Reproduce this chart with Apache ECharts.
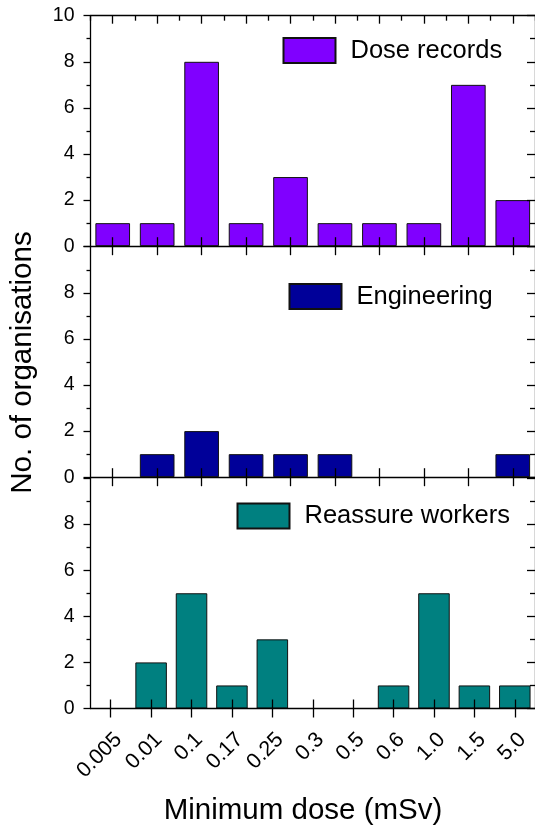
<!DOCTYPE html>
<html>
<head>
<meta charset="utf-8">
<script src="https://cdn.jsdelivr.net/npm/echarts@6/dist/echarts.min.js"></script>
<style>
  html, body { margin: 0; padding: 0; background: #fff; }
  #chart { width: 535px; height: 829px; }
</style>
</head>
<body>
<div id="chart"></div>
<script>
// upper two panels share a 10-slot x axis without labels
const upperSlots = ['1', '2', '3', '4', '5', '6', '7', '8', '9', '10'];
// lower panel categories (tick labels)
const doseLabels = ['0.005', '0.01', '0.1', '0.17', '0.25', '0.3', '0.5', '0.6', '1.0', '1.5', '5.0'];

const doseRecords = [1, 1, 8, 1, 3, 1, 1, 1, 7, 2];
const engineering = [0, 1, 2, 1, 1, 1, 0, 0, 0, 1];
const reassureWorkers = [0, 2, 5, 1, 3, 0, 0, 1, 5, 1, 1];

const seriesNames = ['Dose records', 'Engineering', 'Reassure workers'];
const seriesColors = ['#8000ff', '#000099', '#008080'];

const FONT = "'Liberation Sans', Arial, sans-serif";
const chart = echarts.init(document.getElementById('chart'));

const panelTops = [15.7, 246.7, 478];
const panelHeight = 230.5;
const lineStyle = { color: '#000', width: 1.3 };

const grids = panelTops.map(t => ({ left: 90.5, width: 446.5, top: t, height: panelHeight }));

const xAxes = [];
const yAxes = [];
const panelCats = [upperSlots, upperSlots, doseLabels];

panelCats.forEach((cats, g) => {
  // bottom axis, ticks pointing out
  xAxes.push({
    type: 'category', gridIndex: g, position: 'bottom', data: cats, z: 5,
    axisLine: { lineStyle: lineStyle },
    axisTick: { show: true, alignWithLabel: true, interval: 0, length: 9, lineStyle: lineStyle },
    axisLabel: g === 2 ? {
      show: true, interval: 0, rotate: 45, margin: 20,
      align: 'right', verticalAlign: 'top',
      fontFamily: FONT, fontSize: 21.5, color: '#000'
    } : { show: false }
  });
  // same axis again, ticks pointing in (so they cross the line)
  xAxes.push({
    type: 'category', gridIndex: g, position: 'bottom', data: cats, z: 5,
    axisLine: { show: false },
    axisTick: { show: true, inside: true, alignWithLabel: true, interval: 0, length: 9, lineStyle: lineStyle },
    axisLabel: { show: false }
  });
});

// frame on top of upper panel: long ticks at centres, short ticks at edges
xAxes.push({
  type: 'category', gridIndex: 0, position: 'top', data: upperSlots, z: 5,
  axisLine: { lineStyle: lineStyle },
  axisTick: { show: true, inside: true, alignWithLabel: true, interval: 0, length: 8, lineStyle: lineStyle },
  axisLabel: { show: false }
});
xAxes.push({
  type: 'category', gridIndex: 0, position: 'top', data: upperSlots, z: 5,
  axisLine: { show: false },
  axisTick: { show: true, inside: true, interval: 0, length: 5, lineStyle: lineStyle },
  axisLabel: { show: false }
});

[0, 1, 2].forEach(g => {
  yAxes.push({
    type: 'value', gridIndex: g, position: 'left', min: 0, max: 10, interval: 2, z: 5,
    axisLine: { show: true, lineStyle: lineStyle },
    axisTick: { show: true, length: 7, lineStyle: lineStyle },
    minorTick: { show: true, splitNumber: 2, length: 4, lineStyle: lineStyle },
    splitLine: { show: false },
    axisLabel: {
      margin: 16, fontFamily: FONT, fontSize: 19.5, color: '#000',
      showMaxLabel: g === 0
    }
  });
  yAxes.push({
    type: 'value', gridIndex: g, position: 'right', min: 0, max: 10, interval: 2, z: 5,
    axisLine: { show: true, lineStyle: lineStyle },
    axisTick: { show: true, inside: true, length: 8, lineStyle: lineStyle },
    minorTick: { show: true, splitNumber: 2, length: 5, lineStyle: lineStyle },
    splitLine: { show: false },
    axisLabel: { show: false }
  });
});

const panelData = [doseRecords, engineering, reassureWorkers];
const series = panelData.map((d, g) => ({
  name: seriesNames[g],
  type: 'bar',
  xAxisIndex: g * 2,
  yAxisIndex: g * 2,
  // empty slots are left blank instead of a flat outline
  data: d.map(v => (v === 0 ? '-' : v)),
  barCategoryGap: '22%',
  itemStyle: { color: seriesColors[g], borderColor: '#111', borderWidth: 1 },
  animation: false
}));

const legendPos = [
  { left: 282.5, top: 37 },
  { left: 288.5, top: 283 },
  { left: 236.5, top: 502.5 }
];
const legends = legendPos.map((p, g) => ({
  data: [seriesNames[g]],
  left: p.left, top: p.top, padding: 0,
  icon: 'rect', itemWidth: 52, itemHeight: 25,
  selectedMode: false,
  textStyle: { fontFamily: FONT, fontSize: 25.5, color: '#000', padding: [0, 0, 0, 10] }
}));

const option = {
  backgroundColor: '#fff',
  animation: false,
  grid: grids,
  xAxis: xAxes,
  yAxis: yAxes,
  legend: legends,
  series: series,
  graphic: [
    {
      type: 'text', x: 22.5, y: 362.5, rotation: Math.PI / 2,
      style: { text: 'No. of organisations', font: '29.5px ' + FONT, fill: '#000', textAlign: 'center', textVerticalAlign: 'middle' }
    },
    {
      type: 'text', x: 303, y: 811,
      style: { text: 'Minimum dose (mSv)', font: '29.5px ' + FONT, fill: '#000', textAlign: 'center', textVerticalAlign: 'middle' }
    }
  ]
};

chart.setOption(option);
</script>
</body>
</html>
